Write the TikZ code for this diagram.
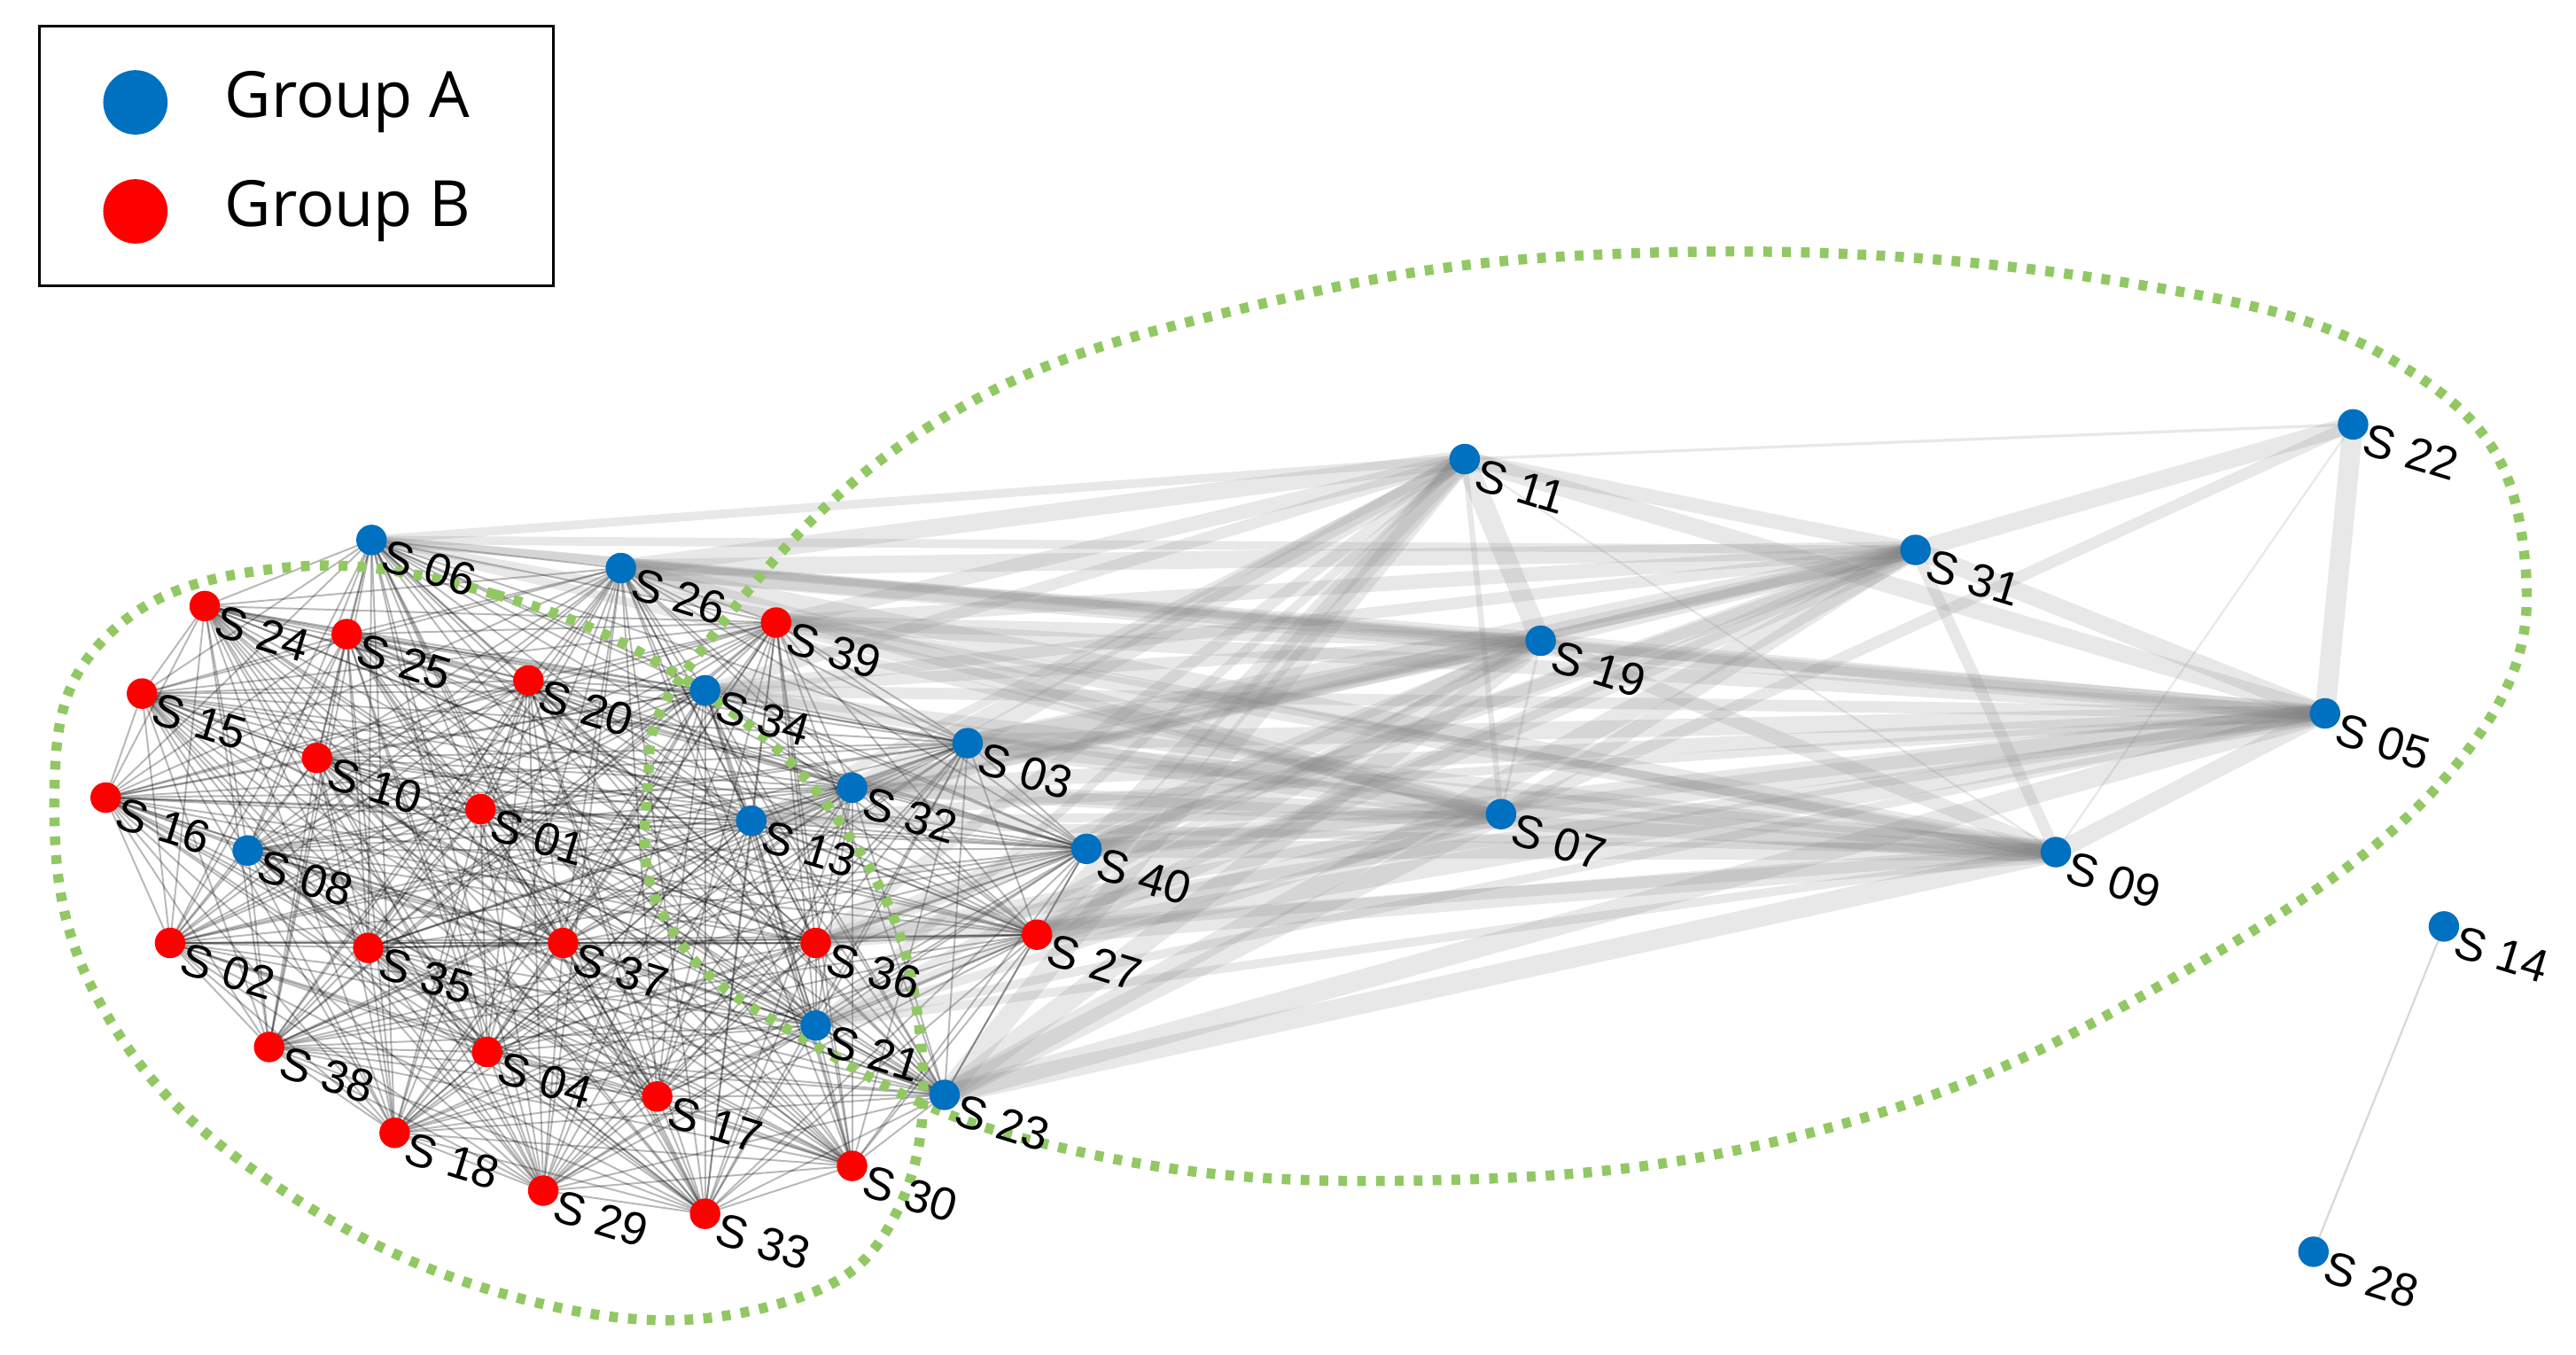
\documentclass[tikz,border=0pt]{standalone}
\usepackage{fontspec}
\setmainfont{Liberation Sans}
\newfontfamily\legendfont{Open Sans}
\usetikzlibrary{positioning}
\definecolor{grpA}{RGB}{0,112,192}
\definecolor{grpB}{RGB}{255,0,0}
\definecolor{hull}{RGB}{146,200,100}
\newcommand{\subj}[1]{S~#1}
\tikzset{
    x=0.02cm, y=-0.02cm,
    nodeA/.style = {circle, fill=grpA, inner sep=0pt, minimum size=0.37cm},
    nodeB/.style = {circle, fill=grpB, inner sep=0pt, minimum size=0.37cm},
    lab/.style   = {rotate=-17, anchor=west, inner sep=0pt, font=\fontsize{16}{16}\selectfont, xshift=0pt, yshift=-5pt},
    dense/.style = {black, opacity=0.28, line width=0.6pt},
    wide/.style  = {gray, opacity=0.18},
    hullStyle/.style = {hull, line width=3.5pt, dash pattern=on 3pt off 3.5pt}
}
\begin{document}
\begin{tikzpicture}
  \useasboundingbox (0,0) rectangle (1560,820);

  % nodes: name/x/y
  \foreach \n/\x/\y in {06/225/327,26/376/344,39/470/377,24/124/367,25/210/384,
      20/320/412,34/427/418,15/86/420,10/192/459,03/586/450,32/516/477,
      16/64/483,01/291/490,13/455/497,08/150/515,40/658/514,02/103/571,
      35/223/574,37/341/571,36/494/571,27/628/566,21/494/621,38/163/634,
      04/295/637,17/398/664,23/572/663,18/239/686,30/516/706,29/329/721,
      33/427/735,11/887/278,19/933/388,07/909/493,31/1160/333,22/1425/257,
      05/1408/432,09/1245/516,14/1480/561,28/1401/758}
    \coordinate (c\n) at (\x,\y);

  % Draw dense edges inside cluster
  \foreach \a [count=\i] in {06,26,39,24,25,20,34,15,10,03,32,16,01,13,08,40,02,35,37,36,27,21,38,04,17,23,18,30,29,33}
    \foreach \b [count=\j] in {06,26,39,24,25,20,34,15,10,03,32,16,01,13,08,40,02,35,37,36,27,21,38,04,17,23,18,30,29,33}
      {\ifnum\i<\j \draw[dense] (c\a) -- (c\b); \fi}

  % Draw edges to the right group
  \foreach \a/\w in {06/3,26/6,39/5,34/4,03/6,32/5,13/3,40/6,27/7,23/7,21/3,36/4}
    \foreach \b in {11,19,07,31,05,09}
      \draw[wide, line width=\w pt] (c\a) -- (c\b);
  \foreach \a/\b/\w in {11/22/1,11/31/5,11/19/7,11/07/2,11/05/6,11/09/0.7,31/22/6,31/05/6,31/09/4,
      31/19/5,31/07/5,22/05/7,22/09/0.7,22/07/4,19/05/5,19/09/5,19/07/1,07/05/7,07/09/8,05/09/6}
    \draw[wide, line width=\w pt] (c\a) -- (c\b);
  \draw[gray, opacity=0.3, line width=0.7pt] (c14) -- (c28);

  % Draw hulls
  \draw[hullStyle] plot[smooth cycle, tension=0.7] coordinates {(420,400) (560,260) (760,185) (1000,153)
      (1280,170) (1460,225) (1528,330) (1490,460) (1320,590) (1100,685) (850,715) (630,692)
      (480,625) (405,560) (392,480)};
  \draw[hullStyle] plot[smooth cycle, tension=0.7] coordinates {(170,344) (300,360) (420,415) (510,500)
      (555,610) (545,730) (470,790) (330,790) (170,720) (62,610) (33,480) (65,385)};

  % Draw nodes with labels
  \foreach \n in {06,26,34,03,32,13,08,40,21,23,11,19,07,31,22,05,09,14,28}
    \node[nodeA] (s\n) at (c\n) [label={[lab]0:\subj{\n}}] {};
  \foreach \n in {39,24,25,20,15,10,16,01,02,35,37,36,27,38,04,17,18,30,29,33}
    \node[nodeB] (s\n) at (c\n) [label={[lab]0:\subj{\n}}] {};

  % Legend
  \draw[line width=1pt] (24,16) rectangle (335,173);
  \node[nodeA, minimum size=0.78cm] (legA) at (82,62) {};
  \node[nodeB, minimum size=0.78cm] (legB) at (82,128) {};
  \node[anchor=west, font=\legendfont\fontsize{22}{22}\selectfont] (txtA) at (130,62) {Group A};
  \node[anchor=west, font=\legendfont\fontsize{22}{22}\selectfont] (txtB) at (130,128) {Group B};
\end{tikzpicture}
\end{document}
